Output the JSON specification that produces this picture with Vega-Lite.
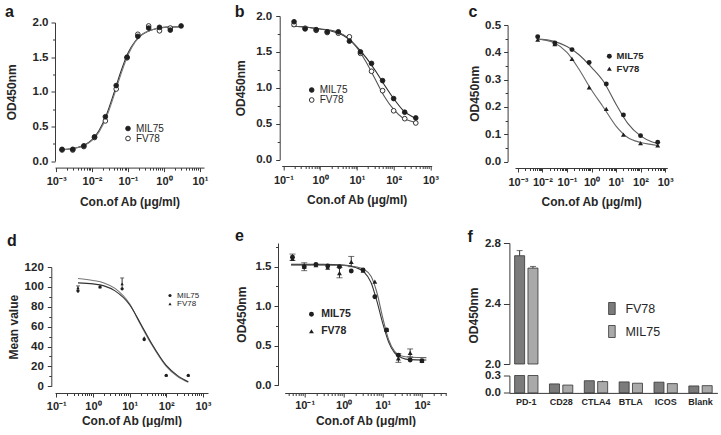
{
  "$schema": "https://vega.github.io/schema/vega-lite/v6.json",
  "padding": {"left": 5, "top": 3, "right": 0, "bottom": 0},
  "config": {
    "view": {"stroke": null},
    "font": "Liberation Sans",
    "axis": {"labelFont": "Liberation Sans", "labelFontSize": 11, "labelFontWeight": "bold", "labelColor": "#262626", "titleFont": "Liberation Sans", "titleFontSize": 12, "titleFontWeight": "bold", "titleColor": "#262626", "domainColor": "#3a3a3a", "tickColor": "#3a3a3a", "grid": false, "labelFlush": false, "labelOverlap": false, "tickSize": 4, "tickCount": 100},
    "title": {"anchor": "start", "frame": "bounds", "fontSize": 16, "fontWeight": "bold", "font": "Liberation Sans", "color": "#1a1a1a"},
    "legend": {"padding": 0}
  },
  "datasets": {
    "a_pts": [
      {"s":"FV78","x":0.00146,"y":0.16},{"s":"FV78","x":0.0029,"y":0.16},{"s":"FV78","x":0.0059,"y":0.21},{"s":"FV78","x":0.0117,"y":0.34},{"s":"FV78","x":0.0234,"y":0.58},{"s":"FV78","x":0.0469,"y":1.04},{"s":"FV78","x":0.094,"y":1.49},{"s":"FV78","x":0.1875,"y":1.83},{"s":"FV78","x":0.375,"y":1.95},{"s":"FV78","x":0.75,"y":1.88},{"s":"FV78","x":1.5,"y":1.92},
      {"s":"MIL75","x":0.00146,"y":0.17},{"s":"MIL75","x":0.0029,"y":0.17},{"s":"MIL75","x":0.0059,"y":0.22},{"s":"MIL75","x":0.0117,"y":0.35},{"s":"MIL75","x":0.0234,"y":0.64},{"s":"MIL75","x":0.0469,"y":1.09},{"s":"MIL75","x":0.094,"y":1.5},{"s":"MIL75","x":0.1875,"y":1.8},{"s":"MIL75","x":0.375,"y":1.92},{"s":"MIL75","x":0.75,"y":1.93},{"s":"MIL75","x":1.5,"y":1.89},{"s":"MIL75","x":3,"y":1.95}
    ],
    "a_fit": [
      {"s":"MIL75","x":0.00145,"y":0.167},{"s":"MIL75","x":0.00316,"y":0.185},{"s":"MIL75","x":0.00631,"y":0.235},{"s":"MIL75","x":0.01,"y":0.309},{"s":"MIL75","x":0.0158,"y":0.445},{"s":"MIL75","x":0.0251,"y":0.667},{"s":"MIL75","x":0.0398,"y":0.968},{"s":"MIL75","x":0.0631,"y":1.29},{"s":"MIL75","x":0.1,"y":1.56},{"s":"MIL75","x":0.158,"y":1.73},{"s":"MIL75","x":0.251,"y":1.83},{"s":"MIL75","x":0.501,"y":1.9},{"s":"MIL75","x":1,"y":1.93},{"s":"MIL75","x":3.02,"y":1.94},
      {"s":"FV78","x":0.00145,"y":0.167},{"s":"FV78","x":0.00316,"y":0.183},{"s":"FV78","x":0.00631,"y":0.228},{"s":"FV78","x":0.01,"y":0.298},{"s":"FV78","x":0.0158,"y":0.425},{"s":"FV78","x":0.0251,"y":0.635},{"s":"FV78","x":0.0398,"y":0.93},{"s":"FV78","x":0.0631,"y":1.25},{"s":"FV78","x":0.1,"y":1.53},{"s":"FV78","x":0.158,"y":1.72},{"s":"FV78","x":0.251,"y":1.83},{"s":"FV78","x":0.501,"y":1.9},{"s":"FV78","x":1,"y":1.93},{"s":"FV78","x":3.02,"y":1.94}
    ],
    "b_pts": [
      {"s":"FV78","x":0.195,"y":1.88},{"s":"FV78","x":0.39,"y":1.83},{"s":"FV78","x":0.78,"y":1.8},{"s":"FV78","x":1.56,"y":1.77},{"s":"FV78","x":3.125,"y":1.76},{"s":"FV78","x":6.25,"y":1.71},{"s":"FV78","x":12.5,"y":1.48},{"s":"FV78","x":25,"y":1.23},{"s":"FV78","x":50,"y":0.96},{"s":"FV78","x":100,"y":0.68},{"s":"FV78","x":200,"y":0.57},{"s":"FV78","x":400,"y":0.51},
      {"s":"MIL75","x":0.195,"y":1.92},{"s":"MIL75","x":0.39,"y":1.82},{"s":"MIL75","x":0.78,"y":1.81},{"s":"MIL75","x":1.56,"y":1.78},{"s":"MIL75","x":3.125,"y":1.78},{"s":"MIL75","x":6.25,"y":1.65},{"s":"MIL75","x":12.5,"y":1.5},{"s":"MIL75","x":25,"y":1.34},{"s":"MIL75","x":50,"y":1.1},{"s":"MIL75","x":100,"y":0.85},{"s":"MIL75","x":200,"y":0.66},{"s":"MIL75","x":400,"y":0.58}
    ],
    "b_fit": [
      {"s":"MIL75","x":0.17,"y":1.86},{"s":"MIL75","x":0.5,"y":1.84},{"s":"MIL75","x":1,"y":1.82},{"s":"MIL75","x":2,"y":1.79},{"s":"MIL75","x":3.2,"y":1.76},{"s":"MIL75","x":5.6,"y":1.69},{"s":"MIL75","x":10,"y":1.57},{"s":"MIL75","x":17.8,"y":1.42},{"s":"MIL75","x":31.6,"y":1.24},{"s":"MIL75","x":56,"y":1.04},{"s":"MIL75","x":100,"y":0.85},{"s":"MIL75","x":178,"y":0.69},{"s":"MIL75","x":316,"y":0.6},{"s":"MIL75","x":420,"y":0.57},
      {"s":"FV78","x":0.17,"y":1.86},{"s":"FV78","x":0.5,"y":1.84},{"s":"FV78","x":1,"y":1.82},{"s":"FV78","x":2,"y":1.8},{"s":"FV78","x":3.2,"y":1.77},{"s":"FV78","x":5.6,"y":1.7},{"s":"FV78","x":10,"y":1.56},{"s":"FV78","x":17.8,"y":1.36},{"s":"FV78","x":31.6,"y":1.12},{"s":"FV78","x":56,"y":0.88},{"s":"FV78","x":100,"y":0.7},{"s":"FV78","x":178,"y":0.58},{"s":"FV78","x":316,"y":0.53},{"s":"FV78","x":420,"y":0.51}
    ],
    "c_pts": [
      {"s":"MIL75","x":0.0064,"y":0.457},{"s":"MIL75","x":0.032,"y":0.434},{"s":"MIL75","x":0.16,"y":0.41},{"s":"MIL75","x":0.8,"y":0.363},{"s":"MIL75","x":4,"y":0.284},{"s":"MIL75","x":20,"y":0.171},{"s":"MIL75","x":100,"y":0.095},{"s":"MIL75","x":500,"y":0.071},
      {"s":"FV78","x":0.0064,"y":0.446},{"s":"FV78","x":0.032,"y":0.43},{"s":"FV78","x":0.16,"y":0.376},{"s":"FV78","x":0.8,"y":0.272},{"s":"FV78","x":4,"y":0.193},{"s":"FV78","x":20,"y":0.099},{"s":"FV78","x":100,"y":0.068},{"s":"FV78","x":500,"y":0.059}
    ],
    "c_fit": [
      {"s":"MIL75","x":0.006,"y":0.449},{"s":"MIL75","x":0.01,"y":0.448},{"s":"MIL75","x":0.03,"y":0.44},{"s":"MIL75","x":0.1,"y":0.421},{"s":"MIL75","x":0.3,"y":0.392},{"s":"MIL75","x":1,"y":0.345},{"s":"MIL75","x":3,"y":0.295},{"s":"MIL75","x":10,"y":0.21},{"s":"MIL75","x":30,"y":0.14},{"s":"MIL75","x":100,"y":0.094},{"s":"MIL75","x":300,"y":0.072},{"s":"MIL75","x":550,"y":0.066},
      {"s":"FV78","x":0.006,"y":0.448},{"s":"FV78","x":0.01,"y":0.446},{"s":"FV78","x":0.03,"y":0.435},{"s":"FV78","x":0.1,"y":0.4},{"s":"FV78","x":0.3,"y":0.34},{"s":"FV78","x":1,"y":0.262},{"s":"FV78","x":3,"y":0.2},{"s":"FV78","x":10,"y":0.13},{"s":"FV78","x":30,"y":0.088},{"s":"FV78","x":100,"y":0.07},{"s":"FV78","x":300,"y":0.062},{"s":"FV78","x":550,"y":0.058}
    ],
    "d_pts": [
      {"s":"MIL75","x":0.39,"y":96},{"s":"MIL75","x":1.56,"y":100},{"s":"MIL75","x":6.25,"y":98},{"s":"MIL75","x":25,"y":47},{"s":"MIL75","x":100,"y":11},{"s":"MIL75","x":400,"y":11},
      {"s":"FV78","x":0.39,"y":99},{"s":"FV78","x":1.56,"y":100},{"s":"FV78","x":6.25,"y":103},{"s":"FV78","x":25,"y":49},{"s":"FV78","x":100,"y":11},{"s":"FV78","x":400,"y":11}
    ],
    "d_err": [
      {"s":"MIL75","x":0.39,"lo":94,"hi":101},{"s":"FV78","x":6.25,"lo":97,"hi":109}
    ],
    "d_fit": [
      {"s":"FV78","x":0.39,"y":108.5},{"s":"FV78","x":1,"y":106.5},{"s":"FV78","x":2,"y":104},{"s":"FV78","x":4,"y":98.5},{"s":"FV78","x":10,"y":83},{"s":"FV78","x":20,"y":62},{"s":"FV78","x":40,"y":42},{"s":"FV78","x":100,"y":20},{"s":"FV78","x":200,"y":10},{"s":"FV78","x":400,"y":4},
      {"s":"MIL75","x":0.39,"y":104},{"s":"MIL75","x":1,"y":103},{"s":"MIL75","x":2,"y":101},{"s":"MIL75","x":4,"y":96},{"s":"MIL75","x":10,"y":82},{"s":"MIL75","x":20,"y":63},{"s":"MIL75","x":40,"y":43},{"s":"MIL75","x":100,"y":21},{"s":"MIL75","x":200,"y":11},{"s":"MIL75","x":400,"y":4.5}
    ],
    "e_pts": [
      {"s":"MIL75","x":0.049,"y":1.62},{"s":"MIL75","x":0.098,"y":1.5},{"s":"MIL75","x":0.195,"y":1.53},{"s":"MIL75","x":0.39,"y":1.51},{"s":"MIL75","x":0.78,"y":1.5},{"s":"MIL75","x":1.56,"y":1.445},{"s":"MIL75","x":3.125,"y":1.46},{"s":"MIL75","x":6.25,"y":1.12},{"s":"MIL75","x":12.5,"y":0.7},{"s":"MIL75","x":25,"y":0.38},{"s":"MIL75","x":50,"y":0.32},{"s":"MIL75","x":100,"y":0.31},
      {"s":"FV78","x":0.049,"y":1.6},{"s":"FV78","x":0.098,"y":1.5},{"s":"FV78","x":0.195,"y":1.52},{"s":"FV78","x":0.39,"y":1.49},{"s":"FV78","x":0.78,"y":1.42},{"s":"FV78","x":1.56,"y":1.56},{"s":"FV78","x":3.125,"y":1.45},{"s":"FV78","x":6.25,"y":1.31},{"s":"FV78","x":12.5,"y":0.7},{"s":"FV78","x":25,"y":0.34},{"s":"FV78","x":50,"y":0.41},{"s":"FV78","x":100,"y":0.31}
    ],
    "e_err": [
      {"s":"MIL75","x":0.049,"lo":1.58,"hi":1.66},{"s":"FV78","x":0.098,"lo":1.45,"hi":1.55},{"s":"FV78","x":0.78,"lo":1.36,"hi":1.49},{"s":"FV78","x":1.56,"lo":1.5,"hi":1.63},{"s":"FV78","x":25,"lo":0.29,"hi":0.4},{"s":"FV78","x":50,"lo":0.36,"hi":0.46}
    ],
    "e_fit": [
      {"s":"MIL75","x":0.045,"y":1.53},{"s":"MIL75","x":0.1,"y":1.53},{"s":"MIL75","x":0.3,"y":1.53},{"s":"MIL75","x":1,"y":1.52},{"s":"MIL75","x":2,"y":1.49},{"s":"MIL75","x":3.2,"y":1.44},{"s":"MIL75","x":5,"y":1.3},{"s":"MIL75","x":7,"y":1.07},{"s":"MIL75","x":10,"y":0.78},{"s":"MIL75","x":14,"y":0.55},{"s":"MIL75","x":20,"y":0.41},{"s":"MIL75","x":30,"y":0.35},{"s":"MIL75","x":50,"y":0.325},{"s":"MIL75","x":130,"y":0.32},
      {"s":"FV78","x":0.045,"y":1.52},{"s":"FV78","x":0.1,"y":1.52},{"s":"FV78","x":0.3,"y":1.52},{"s":"FV78","x":1,"y":1.515},{"s":"FV78","x":2,"y":1.5},{"s":"FV78","x":3.2,"y":1.47},{"s":"FV78","x":5,"y":1.38},{"s":"FV78","x":7,"y":1.18},{"s":"FV78","x":10,"y":0.85},{"s":"FV78","x":14,"y":0.58},{"s":"FV78","x":20,"y":0.43},{"s":"FV78","x":30,"y":0.37},{"s":"FV78","x":50,"y":0.355},{"s":"FV78","x":130,"y":0.35}
    ],
    "f_bars": [
      {"g":"PD-1","s":"FV78","v":2.716},{"g":"PD-1","s":"MIL75","v":2.634},
      {"g":"CD28","s":"FV78","v":0.155},{"g":"CD28","s":"MIL75","v":0.135},
      {"g":"CTLA4","s":"FV78","v":0.21},{"g":"CTLA4","s":"MIL75","v":0.195},
      {"g":"BTLA","s":"FV78","v":0.19},{"g":"BTLA","s":"MIL75","v":0.167},
      {"g":"ICOS","s":"FV78","v":0.185},{"g":"ICOS","s":"MIL75","v":0.16},
      {"g":"Blank","s":"FV78","v":0.12},{"g":"Blank","s":"MIL75","v":0.125}
    ],
    "f_err": [
      {"g":"PD-1","s":"FV78","lo":2.716,"hi":2.75},{"g":"PD-1","s":"MIL75","lo":2.634,"hi":2.645},
      {"g":"CTLA4","s":"MIL75","lo":0.195,"hi":0.212}
    ]
  },
  "resolve": {"scale": {"fill": "independent", "shape": "independent", "color": "independent"}},
  "spacing": 20,
  "vconcat": [
    {
      "spacing": 26.7,
      "resolve": {"scale": {"fill": "independent", "shape": "independent", "color": "independent"}},
      "hconcat": [
        {
          "title": {"text": "a", "offset": -4.3},
          "spacing": -0.5,
          "resolve": {"scale": {"fill": "independent", "shape": "independent", "color": "independent"}},
          "vconcat": [
            {"width": 10, "height": 1, "data": {"values": []}, "mark": "point"},
            {
              "width": 149, "height": 138.6,
              "layer": [
                {
                  "data": {"name": "a_fit"},
                  "mark": {"type": "line", "interpolate": "monotone", "strokeWidth": 1.1},
                  "encoding": {
                    "x": {"field": "x", "type": "quantitative", "scale": {"type": "log", "domain": [0.00093, 13], "nice": false},
                      "axis": {"title": "Con.of Ab (μg/ml)", "offset": 6.5, "labelOverlap": false, "tickCount": 100, "values": [0.001,0.002,0.003,0.004,0.005,0.006,0.007,0.008,0.009,0.01,0.02,0.03,0.04,0.05,0.06,0.07,0.08,0.09,0.1,0.2,0.3,0.4,0.5,0.6,0.7,0.8,0.9,1,2,3,4,5,6,7,8,9,10],
                        "labelExpr": "abs(log(datum.value)/LN10-round(log(datum.value)/LN10))<0.01 ? '10'+['⁻³','⁻²','⁻¹','⁰','¹','²','³'][round(log(datum.value)/LN10)+3] : ''",
                        "tickSize": {"condition": {"test": "abs(log(datum.value)/LN10-round(log(datum.value)/LN10))<0.01", "value": 4}, "value": 2.5},
                        "labelPadding": 4, "titlePadding": 9.5}},
                    "y": {"field": "y", "type": "quantitative", "scale": {"domain": [0, 2], "nice": false},
                      "axis": {"title": "OD450nm", "labelOverlap": false, "tickCount": 100, "values": [0,0.25,0.5,0.75,1,1.25,1.5,1.75,2],
                        "labelExpr": "datum.value % 0.5 == 0 ? format(datum.value,'.1f') : ''",
                        "tickSize": {"condition": {"test": "datum.value % 0.5 == 0", "value": 4}, "value": 2.5},
                        "labelPadding": 3, "titlePadding": 14, "labelFontSize": 11.5}},
                    "color": {"field": "s", "type": "nominal", "scale": {"domain": ["FV78", "MIL75"], "range": ["#7a7a7a", "#2a2a2a"]}, "legend": null}
                  }
                },
                {
                  "data": {"name": "a_pts"},
                  "mark": {"type": "point", "shape": "circle", "filled": true, "size": 22, "stroke": "#1f1f1f", "strokeWidth": 0.9, "opacity": 1},
                  "encoding": {
                    "x": {"field": "x", "type": "quantitative"},
                    "y": {"field": "y", "type": "quantitative"},
                    "fill": {"field": "s", "type": "nominal", "scale": {"domain": ["MIL75", "FV78"], "range": ["#1f1f1f", "#ffffff"]},
                      "legend": {"orient": "none", "legendX": 68, "legendY": 101, "title": null, "labelFontSize": 10, "labelFontWeight": "normal", "labelColor": "#262626", "symbolType": "circle", "symbolSize": 22, "symbolStrokeColor": "#1f1f1f", "symbolStrokeWidth": 0.9, "rowPadding": -3, "labelOffset": 3}}
                  }
                }
              ]
            }
          ]
        },
        {
          "spacing": 29.3,
          "resolve": {"scale": {"fill": "independent", "shape": "independent", "color": "independent"}},
          "hconcat": [
            {
              "title": {"text": "b", "offset": -9.8},
              "width": 150, "height": 143.6,
              "layer": [
                {
                  "data": {"name": "b_fit"},
                  "mark": {"type": "line", "interpolate": "monotone", "strokeWidth": 1.1},
                  "encoding": {
                    "x": {"field": "x", "type": "quantitative", "scale": {"type": "log", "domain": [0.09, 1084], "nice": false},
                      "axis": {"title": "Con.of Ab (μg/ml)", "offset": 6.4, "labelOverlap": false, "tickCount": 100, "values": [0.1,0.2,0.3,0.4,0.5,0.6,0.7,0.8,0.9,1,2,3,4,5,6,7,8,9,10,20,30,40,50,60,70,80,90,100,200,300,400,500,600,700,800,900,1000],
                        "labelExpr": "abs(log(datum.value)/LN10-round(log(datum.value)/LN10))<0.01 ? '10'+['⁻³','⁻²','⁻¹','⁰','¹','²','³'][round(log(datum.value)/LN10)+3] : ''",
                        "tickSize": {"condition": {"test": "abs(log(datum.value)/LN10-round(log(datum.value)/LN10))<0.01", "value": 4}, "value": 2.5},
                        "labelPadding": 4, "titlePadding": 9.5}},
                    "y": {"field": "y", "type": "quantitative", "scale": {"domain": [0, 2], "nice": false},
                      "axis": {"title": "OD450nm", "offset": 2, "labelOverlap": false, "tickCount": 100, "values": [0,0.25,0.5,0.75,1,1.25,1.5,1.75,2],
                        "labelExpr": "datum.value % 0.5 == 0 ? format(datum.value,'.1f') : ''",
                        "tickSize": {"condition": {"test": "datum.value % 0.5 == 0", "value": 4}, "value": 2.5},
                        "labelPadding": 4, "titlePadding": 8, "labelFontSize": 11.5}},
                    "color": {"field": "s", "type": "nominal", "scale": {"domain": ["FV78", "MIL75"], "range": ["#555555", "#2a2a2a"]}, "legend": null}
                  }
                },
                {
                  "data": {"name": "b_pts"},
                  "mark": {"type": "point", "shape": "circle", "filled": true, "size": 22, "stroke": "#1f1f1f", "strokeWidth": 0.9, "opacity": 1},
                  "encoding": {
                    "x": {"field": "x", "type": "quantitative"},
                    "y": {"field": "y", "type": "quantitative"},
                    "fill": {"field": "s", "type": "nominal", "scale": {"domain": ["MIL75", "FV78"], "range": ["#1f1f1f", "#ffffff"]},
                      "legend": {"orient": "none", "legendX": 25, "legendY": 69, "title": null, "labelFontSize": 10, "labelFontWeight": "normal", "labelColor": "#262626", "symbolType": "circle", "symbolSize": 22, "symbolStrokeColor": "#1f1f1f", "symbolStrokeWidth": 0.9, "rowPadding": -3, "labelOffset": 3}}
                  }
                }
              ]
            },
            {
              "title": {"text": "c", "offset": -3.8},
              "spacing": 0,
              "resolve": {"scale": {"fill": "independent", "shape": "independent", "color": "independent"}},
              "vconcat": [
                {"width": 10, "height": 2.5, "data": {"values": []}, "mark": "point"},
                {
                  "width": 152.3, "height": 136.6,
                  "layer": [
                    {
                      "data": {"name": "c_fit"},
                      "mark": {"type": "line", "interpolate": "monotone", "strokeWidth": 1.1},
                      "encoding": {
                        "x": {"field": "x", "type": "quantitative", "scale": {"type": "log", "domain": [0.00076, 1230], "nice": false},
                          "axis": {"title": "Con.of Ab (μg/ml)", "offset": 6.4, "labelOverlap": false, "tickCount": 100, "values": [0.001,0.002,0.003,0.004,0.005,0.006,0.007,0.008,0.009,0.01,0.02,0.03,0.04,0.05,0.06,0.07,0.08,0.09,0.1,0.2,0.3,0.4,0.5,0.6,0.7,0.8,0.9,1,2,3,4,5,6,7,8,9,10,20,30,40,50,60,70,80,90,100,200,300,400,500,600,700,800,900,1000],
                            "labelExpr": "abs(log(datum.value)/LN10-round(log(datum.value)/LN10))<0.01 ? '10'+['⁻³','⁻²','⁻¹','⁰','¹','²','³'][round(log(datum.value)/LN10)+3] : ''",
                            "tickSize": {"condition": {"test": "abs(log(datum.value)/LN10-round(log(datum.value)/LN10))<0.01", "value": 4}, "value": 2.5},
                            "labelPadding": 4, "titlePadding": 9.5}},
                        "y": {"field": "y", "type": "quantitative", "scale": {"domain": [0, 0.5], "nice": false},
                          "axis": {"title": "OD450nm", "offset": 7.4, "labelOverlap": false, "tickCount": 100, "values": [0,0.05,0.1,0.15,0.2,0.25,0.3,0.35,0.4,0.45,0.5],
                            "labelExpr": "abs(datum.value*10-round(datum.value*10))<0.001 ? format(datum.value,'.1f') : ''",
                            "tickSize": {"condition": {"test": "abs(datum.value*10-round(datum.value*10))<0.001", "value": 4}, "value": 2.5},
                            "labelPadding": 3, "titlePadding": 3, "labelFontSize": 11.5}},
                        "color": {"field": "s", "type": "nominal", "scale": {"domain": ["FV78", "MIL75"], "range": ["#666666", "#555555"]}, "legend": null}
                      }
                    },
                    {
                      "data": {"name": "c_pts"},
                      "mark": {"type": "point", "filled": true, "size": 24, "fill": "#1f1f1f", "opacity": 1},
                      "encoding": {
                        "x": {"field": "x", "type": "quantitative"},
                        "y": {"field": "y", "type": "quantitative"},
                        "shape": {"field": "s", "type": "nominal", "scale": {"domain": ["MIL75", "FV78"], "range": ["circle", "triangle-up"]},
                          "legend": {"orient": "none", "legendX": 89.6, "legendY": 26.5, "title": null, "labelFontSize": 9.5, "labelFontWeight": "bold", "labelColor": "#262626", "symbolSize": 24, "symbolFillColor": "#1f1f1f", "symbolStrokeWidth": 0, "rowPadding": 1.5, "labelOffset": 2.5}}
                      }
                    }
                  ]
                }
              ]
            }
          ]
        }
      ]
    },
    {
      "spacing": 23.7,
      "resolve": {"scale": {"fill": "independent", "shape": "independent", "color": "independent"}},
      "hconcat": [
        {
          "title": {"text": "d", "offset": -5.5},
          "spacing": 0,
          "resolve": {"scale": {"fill": "independent", "shape": "independent", "color": "independent"}},
          "vconcat": [
            {"width": 10, "height": 18, "data": {"values": []}, "mark": "point"},
            {
              "width": 153, "height": 119.3,
              "layer": [
                {
                  "data": {"name": "d_fit"},
                  "mark": {"type": "line", "interpolate": "monotone", "strokeWidth": 1.1},
                  "encoding": {
                    "x": {"field": "x", "type": "quantitative", "scale": {"type": "log", "domain": [0.092, 1380], "nice": false},
                      "axis": {"title": "Con.of Ab (μg/ml)", "offset": 6.7, "labelOverlap": false, "tickCount": 100, "values": [0.1,0.2,0.3,0.4,0.5,0.6,0.7,0.8,0.9,1,2,3,4,5,6,7,8,9,10,20,30,40,50,60,70,80,90,100,200,300,400,500,600,700,800,900,1000],
                        "labelExpr": "abs(log(datum.value)/LN10-round(log(datum.value)/LN10))<0.01 ? '10'+['⁻³','⁻²','⁻¹','⁰','¹','²','³'][round(log(datum.value)/LN10)+3] : ''",
                        "tickSize": {"condition": {"test": "abs(log(datum.value)/LN10-round(log(datum.value)/LN10))<0.01", "value": 4}, "value": 2.5},
                        "labelPadding": 3, "titlePadding": 4.5}},
                    "y": {"field": "y", "type": "quantitative", "scale": {"domain": [0, 120], "nice": false},
                      "axis": {"title": "Mean value", "offset": 3.7, "labelOverlap": false, "tickCount": 100, "values": [0,10,20,30,40,50,60,70,80,90,100,110,120],
                        "labelExpr": "datum.value % 20 == 0 ? format(datum.value,'d') : ''",
                        "tickSize": {"condition": {"test": "datum.value % 20 == 0", "value": 4}, "value": 2.5},
                        "labelPadding": 4, "titlePadding": 4, "labelFontSize": 11.5}},
                    "color": {"field": "s", "type": "nominal", "scale": {"domain": ["FV78", "MIL75"], "range": ["#777777", "#333333"]}, "legend": null}
                  }
                },
                {
                  "data": {"name": "d_err"},
                  "mark": {"type": "rule", "color": "#333333", "strokeWidth": 1},
                  "encoding": {
                    "x": {"field": "x", "type": "quantitative"},
                    "y": {"field": "lo", "type": "quantitative"},
                    "y2": {"field": "hi"}
                  }
                },
                {
                  "data": {"name": "d_err"},
                  "mark": {"type": "tick", "orient": "horizontal", "color": "#333333", "size": 4, "thickness": 1},
                  "encoding": {
                    "x": {"field": "x", "type": "quantitative"},
                    "y": {"field": "hi", "type": "quantitative"}
                  }
                },
                {
                  "data": {"name": "d_pts"},
                  "mark": {"type": "point", "filled": true, "size": 11, "fill": "#1f1f1f", "opacity": 1},
                  "encoding": {
                    "x": {"field": "x", "type": "quantitative"},
                    "y": {"field": "y", "type": "quantitative"},
                    "shape": {"field": "s", "type": "nominal", "scale": {"domain": ["MIL75", "FV78"], "range": ["circle", "triangle-up"]},
                      "legend": {"orient": "none", "legendX": 111, "legendY": 24.5, "title": null, "labelFontSize": 8, "labelFontWeight": "normal", "labelColor": "#262626", "symbolSize": 10, "symbolFillColor": "#1f1f1f", "symbolStrokeWidth": 0, "rowPadding": 0.3, "labelOffset": 3}}
                  }
                }
              ]
            }
          ]
        },
        {
          "spacing": 20.7,
          "resolve": {"scale": {"fill": "independent", "shape": "independent", "color": "independent"}},
          "hconcat": [
            {
              "title": {"text": "e", "offset": -3.5},
              "width": 161.6, "height": 142.3,
              "layer": [
                {
                  "data": {"name": "e_fit"},
                  "mark": {"type": "line", "interpolate": "monotone", "strokeWidth": 1.1},
                  "encoding": {
                    "x": {"field": "x", "type": "quantitative", "scale": {"type": "log", "domain": [0.031, 420], "nice": false},
                      "axis": {"title": "Con.of Ab (μg/ml)", "offset": 7.7, "labelOverlap": false, "tickCount": 100, "values": [0.04,0.05,0.06,0.07,0.08,0.09,0.1,0.2,0.3,0.4,0.5,0.6,0.7,0.8,0.9,1,2,3,4,5,6,7,8,9,10,20,30,40,50,60,70,80,90,100,200,300,400],
                        "labelExpr": "abs(log(datum.value)/LN10-round(log(datum.value)/LN10))<0.01 ? '10'+['⁻³','⁻²','⁻¹','⁰','¹','²','³'][round(log(datum.value)/LN10)+3] : ''",
                        "tickSize": {"condition": {"test": "abs(log(datum.value)/LN10-round(log(datum.value)/LN10))<0.01", "value": 4}, "value": 2.5},
                        "labelPadding": 2, "titlePadding": 5.5}},
                    "y": {"field": "y", "type": "quantitative", "scale": {"domain": [0, 1.8], "nice": false},
                      "axis": {"title": "OD450nm", "offset": 6.7, "labelOverlap": false, "tickCount": 100, "values": [0,0.25,0.5,0.75,1,1.25,1.5,1.75],
                        "labelExpr": "datum.value % 0.5 == 0 ? format(datum.value,'.1f') : ''",
                        "tickSize": {"condition": {"test": "datum.value % 0.5 == 0", "value": 4}, "value": 2.5},
                        "labelPadding": 3, "titlePadding": 7, "labelFontSize": 11.5}},
                    "color": {"field": "s", "type": "nominal", "scale": {"domain": ["FV78", "MIL75"], "range": ["#666666", "#333333"]}, "legend": null}
                  }
                },
                {
                  "data": {"name": "e_err"},
                  "mark": {"type": "rule", "color": "#333333", "strokeWidth": 1},
                  "encoding": {
                    "x": {"field": "x", "type": "quantitative"},
                    "y": {"field": "lo", "type": "quantitative"},
                    "y2": {"field": "hi"}
                  }
                },
                {
                  "data": {"name": "e_err"},
                  "mark": {"type": "tick", "orient": "horizontal", "color": "#333333", "size": 6, "thickness": 1},
                  "encoding": {
                    "x": {"field": "x", "type": "quantitative"},
                    "y": {"field": "hi", "type": "quantitative"}
                  }
                },
                {
                  "data": {"name": "e_err"},
                  "mark": {"type": "tick", "orient": "horizontal", "color": "#333333", "size": 6, "thickness": 1},
                  "encoding": {
                    "x": {"field": "x", "type": "quantitative"},
                    "y": {"field": "lo", "type": "quantitative"}
                  }
                },
                {
                  "data": {"name": "e_pts"},
                  "mark": {"type": "point", "filled": true, "size": 24, "fill": "#1f1f1f", "opacity": 1},
                  "encoding": {
                    "x": {"field": "x", "type": "quantitative"},
                    "y": {"field": "y", "type": "quantitative"},
                    "shape": {"field": "s", "type": "nominal", "scale": {"domain": ["MIL75", "FV78"], "range": ["circle", "triangle-up"]},
                      "legend": {"orient": "none", "legendX": 21.5, "legendY": 66, "title": null, "labelFontSize": 10.5, "labelFontWeight": "bold", "labelColor": "#262626", "symbolSize": 24, "symbolFillColor": "#1f1f1f", "symbolStrokeWidth": 0, "rowPadding": 6, "labelOffset": 4.5}}
                  }
                }
              ]
            },
            {
              "title": {"text": "f", "offset": -8},
              "spacing": -0.5,
              "resolve": {"scale": {"fill": "independent", "shape": "independent", "color": "independent"}},
              "vconcat": [
                {
                  "width": 208, "height": 121,
                  "layer": [
                    {
                      "data": {"name": "f_bars"},
                      "transform": [{"filter": "datum.v > 2"}],
                      "mark": {"type": "bar", "stroke": "#333333", "strokeWidth": 0.8},
                      "encoding": {
                        "x": {"field": "g", "type": "nominal", "scale": {"domain": ["PD-1", "CD28", "CTLA4", "BTLA", "ICOS", "Blank"], "paddingInner": 0.33, "paddingOuter": 0.15}, "axis": null},
                        "xOffset": {"field": "s", "type": "nominal", "scale": {"domain": ["FV78", "MIL75"], "paddingInner": 0.25}},
                        "y": {"field": "v", "type": "quantitative", "scale": {"domain": [2, 2.8], "nice": false, "zero": false},
                          "axis": {"title": "OD450nm", "labelOverlap": false, "tickCount": 100, "values": [2, 2.4, 2.8], "format": ".1f", "tickSize": 6, "labelPadding": 3, "titlePadding": 4, "titleY": 72, "labelFontSize": 11.5}},
                        "y2": {"datum": 2},
                        "fill": {"field": "s", "type": "nominal", "scale": {"domain": ["FV78", "MIL75"], "range": ["#7b7b7b", "#a9a9a9"]},
                          "legend": {"orient": "none", "legendX": 96, "legendY": 59, "title": null, "labelFontSize": 12.5, "labelFontWeight": "normal", "labelColor": "#262626", "symbolType": "M-0.55,-1L0.55,-1L0.55,1L-0.55,1Z", "symbolSize": 144, "symbolStrokeColor": "#333333", "symbolStrokeWidth": 0.8, "rowPadding": 6, "labelOffset": 7}}
                      }
                    },
                    {
                      "data": {"name": "f_err"},
                      "transform": [{"filter": "datum.hi > 2"}],
                      "mark": {"type": "rule", "color": "#333333"},
                      "encoding": {
                        "x": {"field": "g", "type": "nominal"},
                        "xOffset": {"field": "s", "type": "nominal"},
                        "y": {"field": "lo", "type": "quantitative"},
                        "y2": {"field": "hi"}
                      }
                    },
                    {
                      "data": {"name": "f_err"},
                      "transform": [{"filter": "datum.hi > 2"}],
                      "mark": {"type": "tick", "orient": "horizontal", "color": "#333333", "size": 6, "thickness": 1},
                      "encoding": {
                        "x": {"field": "g", "type": "nominal"},
                        "xOffset": {"field": "s", "type": "nominal"},
                        "y": {"field": "hi", "type": "quantitative"}
                      }
                    }
                  ]
                },
                {
                  "width": 208, "height": 17.4,
                  "layer": [
                    {
                      "data": {"name": "f_bars"},
                      "mark": {"type": "bar", "stroke": "#333333", "strokeWidth": 0.8},
                      "encoding": {
                        "x": {"field": "g", "type": "nominal", "scale": {"domain": ["PD-1", "CD28", "CTLA4", "BTLA", "ICOS", "Blank"], "paddingInner": 0.33, "paddingOuter": 0.15},
                          "axis": {"title": null, "ticks": false, "labelAngle": 0, "labelFontSize": 9, "labelPadding": 5, "labelOverlap": false}},
                        "xOffset": {"field": "s", "type": "nominal", "scale": {"domain": ["FV78", "MIL75"], "paddingInner": 0.25}},
                        "y": {"field": "v", "type": "quantitative", "scale": {"domain": [0, 0.3], "clamp": true, "nice": false},
                          "axis": {"title": "O", "titleOpacity": 0, "labelOverlap": false, "tickCount": 100, "values": [0, 0.3], "format": ".1f", "tickSize": 6, "labelPadding": 3, "titlePadding": 4, "labelFontSize": 11.5}},
                        "fill": {"field": "s", "type": "nominal", "scale": {"domain": ["FV78", "MIL75"], "range": ["#7b7b7b", "#a9a9a9"]}, "legend": null}
                      }
                    },
                    {
                      "data": {"name": "f_err"},
                      "transform": [{"filter": "datum.hi < 0.3"}],
                      "mark": {"type": "rule", "color": "#333333"},
                      "encoding": {
                        "x": {"field": "g", "type": "nominal"},
                        "xOffset": {"field": "s", "type": "nominal"},
                        "y": {"field": "lo", "type": "quantitative"},
                        "y2": {"field": "hi"}
                      }
                    }
                  ]
                }
              ]
            }
          ]
        }
      ]
    }
  ]
}
